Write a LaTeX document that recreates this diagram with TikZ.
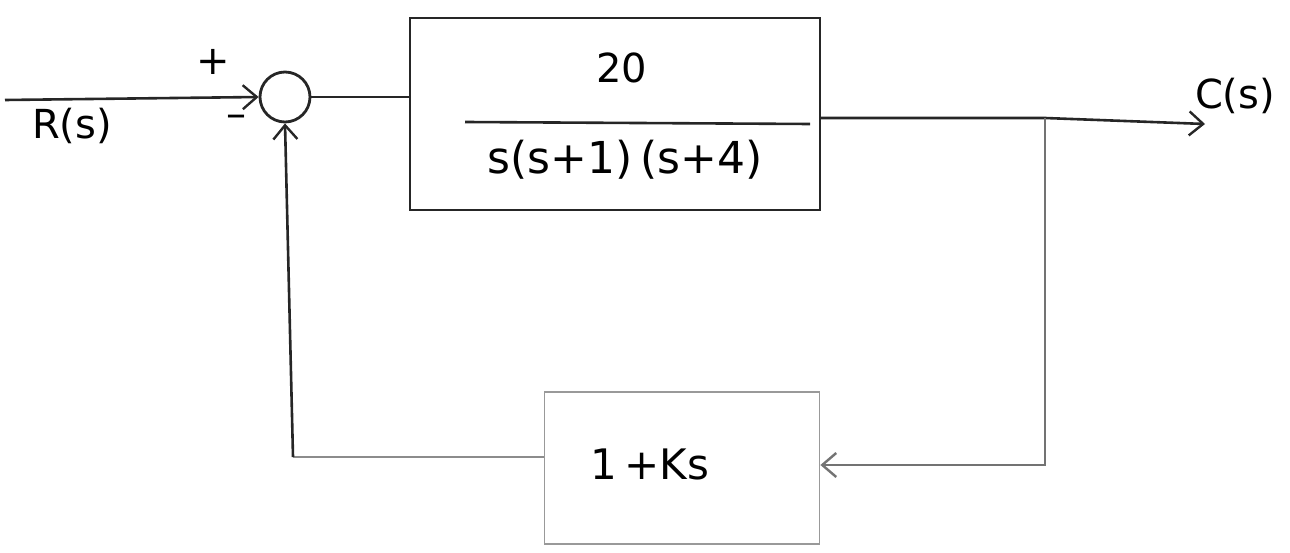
\documentclass[tikz,border=0pt]{standalone}
\usepackage{fontspec}
\setmainfont{DejaVu Sans}
\usetikzlibrary{arrows.meta,calc}
\begin{document}
\begin{tikzpicture}[x=1pt,y=-1pt,
  wire/.style={line width=2.6pt,draw=black!85},
  faint/.style={line width=2pt,draw=black!45},
  arr/.style={-{Straight Barb[length=14pt,width=24pt,line width=2.4pt]}},
  txt/.style={inner sep=0pt,font=\fontsize{40}{46}\selectfont},
  lbl/.style={inner sep=0pt,font=\fontsize{40}{46}\selectfont}]
\useasboundingbox (0,0) rectangle (1290,553);
\node[draw=black!85,line width=2.8pt,circle,minimum size=50pt,inner sep=0pt] (sum) at (285,97) {};
\node[draw=black!85,line width=2.4pt,minimum width=410pt,minimum height=192pt,inner sep=0pt] (G) at (615,114) {};
\node[txt] (num) at (622,68) {20};
\node[txt,font=\fontsize{44}{50}\selectfont] (den) at (625,160) {s(s+1)\,(s+4)};
\coordinate (barL) at (465,122);
\coordinate (barR) at (810,124);
\draw[wire] (barL) -- (barR);
\node[draw=black!40,line width=1.8pt,minimum width=275pt,minimum height=152pt,inner sep=0pt] (H) at (682,468) {};
\node[txt,font=\fontsize{42}{48}\selectfont] (Htxt) at (650,464) {1\,+Ks};
\coordinate (in) at (5,100);
\coordinate (branch) at (1045,118);
\coordinate (out) at (1205,124);
\coordinate (fbR) at (1045,465);
\coordinate (fbL) at (293,457);
\node[lbl] (R) at (72,126) {R(s)};
\node[lbl] (C) at (1235,96) {C(s)};
\node[txt] (plus) at (213,62) {+};
\node[txt] (minus) at (236,121) {–};
\draw[wire,arr] (in) -- (sum.west);
\draw[wire] (sum.east) -- (G.west |- sum.east);
\draw[wire,arr] (G.east |- branch) -- (branch) -- (out);
\draw[faint,draw=black!55,arr] (branch) -- (fbR) -- (H.east |- fbR);
\draw[faint] (H.west |- fbL) -- (fbL);
\draw[wire,arr] (fbL) -- (sum.south);
\end{tikzpicture}
\end{document}
